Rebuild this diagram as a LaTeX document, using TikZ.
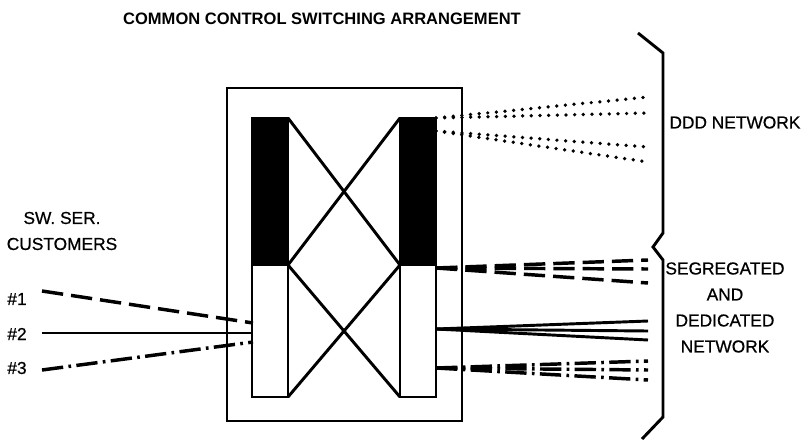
\documentclass[tikz,border=0pt]{standalone}
\usepackage{fontspec}
\setmainfont{Liberation Sans}
\newfontfamily\medfont[FakeBold=0.6]{Liberation Sans}
\usetikzlibrary{positioning}
\tikzset{
  every picture/.style={line width=2.2pt, x=0.75pt, y=-0.75pt},
  heading/.style={font=\bfseries\fontsize{12.4}{14}\selectfont, inner sep=0pt},
  txt/.style={font=\medfont\fontsize{13}{19.5}\selectfont, inner sep=0pt, align=center},
  frame/.style={draw, line width=2pt, minimum width=176.25pt, minimum height=249.75pt, inner sep=0pt, outer sep=0pt},
  blackcol/.style={draw, fill=black, line width=1.4pt, minimum width=27pt, minimum height=110.25pt, inner sep=0pt, outer sep=0pt},
  whitecol/.style={draw, fill=white, line width=2pt, minimum width=27pt, minimum height=99pt, inner sep=0pt, outer sep=0pt},
  link/.style={line width=2.2pt},
  dashline/.style={line width=2.6pt, dash pattern=on 16pt off 6pt},
  dashdotline/.style={line width=2.6pt, dash pattern=on 16pt off 4pt on 2pt off 4pt},
  dotline/.style={line width=2.8pt, line cap=round, dash pattern=on 0pt off 6.5pt},
  brace/.style={line width=2.2pt, line join=miter},
}
\begin{document}
\begin{tikzpicture}
  \useasboundingbox (0,0) rectangle (809,439);
  \node[heading] (title) at (322,19) {COMMON CONTROL SWITCHING ARRANGEMENT};
  % switching frame and the two columns
  \node[frame] (sw) at (344.5,254.5) {};
  \node[blackcol] (lblk) at (270,191.5) {};
  \node[whitecol] (lwht) at (270,331) {};
  \node[blackcol] (rblk) at (418,191.5) {};
  \node[whitecol] (rwht) at (418,331) {};
  \draw[link] (lblk.north east) -- (rblk.south west);
  \draw[link] (lblk.south east) -- (rblk.north west);
  \draw[link] (lwht.north east) -- (rwht.south west);
  \draw[link] (lwht.south east) -- (rwht.north west);
  % customers
  \node[txt] (cust) at (62,231) {SW. SER.\\CUSTOMERS};
  \node[txt] (n1) at (17,299) {\#1};
  \node[txt] (n2) at (17,334) {\#2};
  \node[txt] (n3) at (17,368) {\#3};
  \coordinate (s1) at (42,291);
  \coordinate (s2) at (42,333);
  \coordinate (s3) at (42,370);
  \coordinate (i1) at (253,323);
  \coordinate (i2) at (253,333);
  \coordinate (i3) at (253,342);
  \draw[dashline] (s1) -- (i1);
  \draw[link] (s2) -- (i2);
  \draw[dashdotline] (s3) -- (i3);
  % outgoing trunks
  \coordinate (o1) at (436,118);
  \coordinate (o2) at (436,131);
  \coordinate (o3) at (436,268);
  \coordinate (o4) at (436,329);
  \coordinate (o5) at (436,368);
  \draw[dotline] (o1) -- (648,97);
  \draw[dotline] (o1) -- (648,113);
  \draw[dotline] (o2) -- (648,147);
  \draw[dotline] (o2) -- (648,162);
  \foreach \y in {260,269,283} \draw[dashline] (o3) -- (648,\y);
  \foreach \y in {321,331,340} \draw[link] (o4) -- (648,\y);
  \foreach \y in {361,370,380} \draw[dashdotline] (o5) -- (648,\y);
  % brace and network names
  \draw[brace] (638,33) -- (663,53) -- (663,233) -- (653,247) -- (663,260) -- (663,417) -- (642,439);
  \node[txt, anchor=west] (ddd) at (668,122.5) {DDD NETWORK};
  \node[txt] (seg) at (725,307.5) {SEGREGATED\\AND\\DEDICATED\\NETWORK};
\end{tikzpicture}
\end{document}
